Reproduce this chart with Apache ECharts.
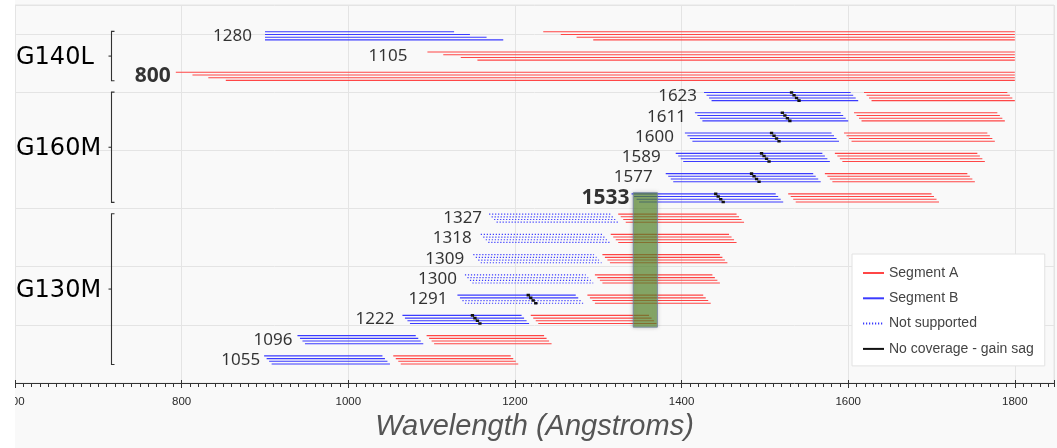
<!DOCTYPE html>
<html>
<head>
<meta charset="utf-8">
<script src="https://cdn.jsdelivr.net/npm/echarts@6/dist/echarts.min.js"></script>
<style>
  html, body { margin: 0; padding: 0; background: #ffffff; }
  #chart { position: absolute; left: 15px; top: 0; width: 1042px; height: 448px; background: #f9f9f9; }
</style>
</head>
<body>
<div id="chart"></div>
<script>
// Central-wavelength settings, listed top to bottom
const rowLabels = ['1280', '1105', '800',
  '1623', '1611', '1600', '1589', '1577', '1533',
  '1327', '1318', '1309', '1300', '1291', '1222', '1096', '1055'];
const boldRows = ['800', '1533'];

// Gratings and the settings each one groups
const gratingNames = ['G140L', 'G160M', 'G130M'];
const gratingFirstRow = ['1280', '1623', '1327'];
const gratingLastRow = ['800', '1533', '1055'];

// Segment A coverage (Angstroms), one value per FP-POS 1..4
const segAStart = [
  [1234, 1255, 1274, 1294], [1095, 1114, 1135, 1155], [793, 813, 832, 853],
  [1619, 1622, 1625, 1628], [1607, 1610, 1613, 1616], [1595, 1598, 1601, 1604],
  [1584, 1587, 1590, 1593], [1572, 1575, 1578, 1581], [1528, 1531, 1534, 1537],
  [1324, 1327, 1330, 1333], [1315, 1318, 1321, 1324], [1305, 1308, 1311, 1314],
  [1296, 1299, 1302, 1305], [1287, 1290, 1293, 1296], [1219, 1222, 1225, 1228],
  [1094, 1097, 1100, 1103], [1054, 1057, 1060, 1063]
];
const segAEnd = [
  [1800, 1800, 1800, 1800], [1800, 1800, 1800, 1800], [1800, 1800, 1800, 1800],
  [1791, 1794, 1797, 1800], [1779, 1782, 1785, 1788], [1767, 1770, 1773, 1776],
  [1755, 1758, 1761, 1764], [1743, 1746, 1749, 1752], [1700, 1703, 1706, 1709],
  [1466, 1469, 1472, 1475], [1457, 1460, 1463, 1466], [1446, 1449, 1452, 1455],
  [1437, 1440, 1443, 1446], [1426, 1429, 1432, 1435], [1361, 1364, 1367, 1370],
  [1235, 1238, 1241, 1244], [1195, 1198, 1201, 1204]
];

// Segment B coverage (Angstroms), null where segment B is not used
const segBStart = [
  [900, 900, 900, 900], null, null,
  [1427, 1430, 1433, 1436], [1416, 1419, 1422, 1425], [1404, 1407, 1410, 1413],
  [1393, 1396, 1399, 1402], [1381, 1384, 1387, 1390], [1340, 1343, 1346, 1349],
  [1169, 1172, 1175, 1178], [1159, 1162, 1165, 1168], [1150, 1153, 1156, 1159],
  [1140, 1143, 1146, 1149], [1131, 1134, 1137, 1140], [1065, 1068, 1071, 1074],
  [939, 942, 945, 948], [899, 902, 905, 908]
];
const segBEnd = [
  [1127, 1146, 1166, 1186], null, null,
  [1603, 1606, 1609, 1612], [1591, 1594, 1597, 1600], [1580, 1583, 1586, 1589],
  [1569, 1572, 1575, 1578], [1558, 1561, 1564, 1567], [1513, 1516, 1519, 1522],
  [1315, 1318, 1321, 1324], [1305, 1308, 1311, 1314], [1295, 1298, 1301, 1304],
  [1285, 1288, 1291, 1294], [1273, 1276, 1279, 1282], [1208, 1211, 1214, 1217],
  [1081, 1084, 1087, 1090], [1041, 1044, 1047, 1050]
];
// 1 = supported, 0 = not supported
const segBSupported = [
  [1, 1, 1, 1], null, null,
  [1, 1, 1, 1], [1, 1, 1, 1], [1, 1, 1, 1], [1, 1, 1, 1], [1, 1, 1, 1], [1, 1, 1, 1],
  [0, 0, 0, 0], [0, 0, 0, 0], [0, 0, 0, 0], [0, 0, 0, 0], [1, 1, 0, 0],
  [1, 1, 1, 1], [1, 1, 1, 1], [1, 1, 1, 1]
];

// Gain-sag gaps on segment B (Angstroms)
const gainSagStart = [
  null, null, null,
  [1530, 1533, 1536, 1539], [1519, 1522, 1525, 1528], [1506, 1509, 1512, 1515],
  [1494, 1497, 1500, 1503], [1482, 1485, 1488, 1491], [1439, 1442, 1445, 1448],
  null, null, null, null, [1214, 1217, 1220, 1223], [1147, 1150, 1153, 1156], null, null
];
const gainSagEnd = [
  null, null, null,
  [1534, 1537, 1540, 1543], [1523, 1526, 1529, 1532], [1510, 1513, 1516, 1519],
  [1498, 1501, 1504, 1507], [1486, 1489, 1492, 1495], [1443, 1446, 1449, 1452],
  null, null, null, null, [1218, 1221, 1224, 1227], [1151, 1154, 1157, 1160], null, null
];

// Shaded band (Angstroms) spanning the settings from 1533 down to 1222
const bandRange = [1342, 1371];
const bandRows = ['1533', '1222'];

// Axis
const xMin = 600, xMax = 1847, xStep = 200, xMinorStep = 10;

// ---- styling ----
const RED = '#ff4646', BLUE = '#3b3bff', BLACK = '#111111';
const lineOffsets = [-0.2, -0.0667, 0.0667, 0.2];   // FP-POS lines within a row
const labelGap = [13, 20, 5, 7, 9, 11, 15, 13, 2, 7, 9, 9, 8, 10, 8, 5, 4];
const GAP = ['-', '-'];

function pushLine(out, x0, x1, y) {
  out.push([x0, y], [x1, y], GAP);
}

const dataA = [], dataB = [], dataBdot = [], dataSag = [];
rowLabels.forEach((lab, i) => {
  for (let j = 0; j < 4; j++) {
    const y = i + lineOffsets[j];
    pushLine(dataA, segAStart[i][j], segAEnd[i][j], y);
    if (segBStart[i]) {
      pushLine(segBSupported[i][j] ? dataB : dataBdot, segBStart[i][j], segBEnd[i][j], y);
    }
    if (gainSagStart[i]) {
      pushLine(dataSag, gainSagStart[i][j], gainSagEnd[i][j], y);
    }
  }
});

const labelData = rowLabels.map((lab, i) => {
  const starts = [segAStart[i][0]];
  if (segBStart[i]) starts.push(segBStart[i][0]);
  const bold = boldRows.includes(lab);
  return {
    value: [Math.min(...starts), i],
    label: {
      formatter: lab,
      distance: labelGap[i],
      fontSize: bold ? 21 : 17,
      fontWeight: bold ? 'bold' : 'normal'
    }
  };
});

const lineSeries = (name, data, style, z) => ({
  name, type: 'line', xAxisIndex: 1, yAxisIndex: 1, data,
  symbol: 'none', connectNulls: false, silent: true, z,
  lineStyle: style, itemStyle: { color: style.color }
});

const chart = echarts.init(document.getElementById('chart'), null, { renderer: 'canvas' });

const option = {
  animation: false,
  backgroundColor: 'transparent',
  textStyle: { fontFamily: 'Noto Sans' },
  grid: [
    { left: 0, right: 3, top: 5, bottom: 65, show: true, borderColor: '#e4e4e4', borderWidth: 1,
      backgroundColor: 'transparent', containLabel: false, outerBoundsMode: 'none' },
    { left: 0, right: 3, top: 25.7, bottom: 77.9, containLabel: false, outerBoundsMode: 'none' }
  ],
  xAxis: [
    { gridIndex: 0, type: 'value', min: xMin, max: xMax, interval: xStep, position: 'bottom',
      axisLine: { show: true, lineStyle: { color: '#333', width: 1 } },
      axisTick: { show: true, length: 5, lineStyle: { color: '#333', width: 1 } },
      axisLabel: { show: true, margin: 13, fontSize: 11.5, color: '#2a2a2a', fontFamily: 'Liberation Sans',
        showMaxLabel: false, formatter: v => (v % xStep === 0 ? String(v) : '') },
      splitLine: { show: true, lineStyle: { color: '#e4e4e4', width: 1 } },
      name: 'Wavelength (Angstroms)', nameLocation: 'middle', nameGap: 22,
      nameTextStyle: { fontSize: 29, fontStyle: 'italic', color: '#555', fontFamily: 'Liberation Sans' } },
    { gridIndex: 1, type: 'value', min: xMin, max: xMax, show: false },
    { gridIndex: 0, type: 'value', min: xMin, max: xMax, interval: xMinorStep, position: 'bottom',
      axisLine: { show: false },
      axisTick: { show: true, length: 4, lineStyle: { color: '#333', width: 1 } },
      axisLabel: { show: false }, splitLine: { show: false } },
    { gridIndex: 0, type: 'value', min: xMin, max: xMax, interval: xStep, position: 'bottom',
      axisLine: { show: false },
      axisTick: { show: true, inside: true, length: 3, lineStyle: { color: '#333', width: 1 } },
      axisLabel: { show: false }, splitLine: { show: false } }
  ],
  yAxis: [
    { gridIndex: 0, type: 'value', min: 0, max: 6.5, interval: 1,
      axisLine: { show: false }, axisTick: { show: false }, axisLabel: { show: false },
      splitLine: { show: true, lineStyle: { color: '#e4e4e4', width: 1 } } },
    { gridIndex: 1, type: 'value', min: -0.5, max: rowLabels.length - 0.5, inverse: true, show: false }
  ],
  legend: {
    orient: 'vertical', left: 837, top: 254,
    data: ['Segment A', 'Segment B', 'Not supported', 'No coverage - gain sag'],
    itemWidth: 21, itemHeight: 14, itemGap: 11.3,
    padding: [12, 11, 10, 10],
    itemStyle: { opacity: 0 },
    backgroundColor: '#ffffff', borderColor: '#e2e2e2', borderWidth: 1, borderRadius: 0,
    textStyle: { fontSize: 14, color: '#444', fontFamily: 'Liberation Sans' },
    selectedMode: false
  },
  series: [
    lineSeries('Segment A', dataA, { color: RED, width: 1.1 }, 2),
    lineSeries('Segment B', dataB, { color: BLUE, width: 1.1 }, 2),
    lineSeries('Not supported', dataBdot, { color: BLUE, width: 1.2, type: [1.2, 1.8] }, 2),
    lineSeries('No coverage - gain sag', dataSag, { color: BLACK, width: 2.6 }, 3),
    {
      name: 'band', type: 'custom', xAxisIndex: 1, yAxisIndex: 1, silent: true, z: 4,
      data: [[bandRange[0], bandRange[1], rowLabels.indexOf(bandRows[0]) - 0.26,
               rowLabels.indexOf(bandRows[1]) + 0.38]],
      encode: { x: [0, 1], y: [2, 3] },
      renderItem(params, api) {
        const p0 = api.coord([api.value(0), api.value(2)]);
        const p1 = api.coord([api.value(1), api.value(3)]);
        return {
          type: 'rect',
          shape: { x: p0[0], y: p0[1], width: p1[0] - p0[0], height: p1[1] - p0[1] },
          style: { fill: 'rgba(90,142,44,0.64)', stroke: 'rgba(110,128,160,0.8)', lineWidth: 1,
                   shadowBlur: 4, shadowColor: 'rgba(0,0,0,0.3)' }
        };
      }
    },
    {
      name: 'settings', type: 'scatter', xAxisIndex: 1, yAxisIndex: 1, silent: true, z: 5,
      symbolSize: 0, data: labelData,
      label: { show: true, position: 'left', color: '#000', fontFamily: 'Noto Sans' }
    }
  ]
};

chart.setOption(option);

// Grating brackets and names, placed from the row axis
const bracketX = 96.5;
const graphics = [];
gratingNames.forEach((g, k) => {
  const r0 = rowLabels.indexOf(gratingFirstRow[k]) - 0.22;
  const r1 = rowLabels.indexOf(gratingLastRow[k]) + 0.22;
  const y0 = chart.convertToPixel({ xAxisIndex: 1, yAxisIndex: 1 }, [xMin, r0])[1];
  const y1 = chart.convertToPixel({ xAxisIndex: 1, yAxisIndex: 1 }, [xMin, r1])[1];
  const ym = (y0 + y1) / 2;
  graphics.push({
    type: 'polyline', silent: true, z: 10,
    shape: { points: [[bracketX + 3, y0], [bracketX, y0], [bracketX, y1], [bracketX + 3, y1]] },
    style: { stroke: '#333', lineWidth: 1.1, fill: 'none' }
  });
  graphics.push({
    type: 'line', silent: true, z: 10,
    shape: { x1: bracketX - 3, y1: ym, x2: bracketX, y2: ym },
    style: { stroke: '#333', lineWidth: 1.1 }
  });
  graphics.push({
    type: 'text', silent: true, z: 10,
    style: { text: g, x: 1, y: ym + 2, fill: '#000', fontSize: 24, fontFamily: 'DejaVu Sans',
             textAlign: 'left', textVerticalAlign: 'middle', verticalAlign: 'middle' }
  });
});
chart.setOption({ graphic: graphics });
</script>
</body>
</html>
